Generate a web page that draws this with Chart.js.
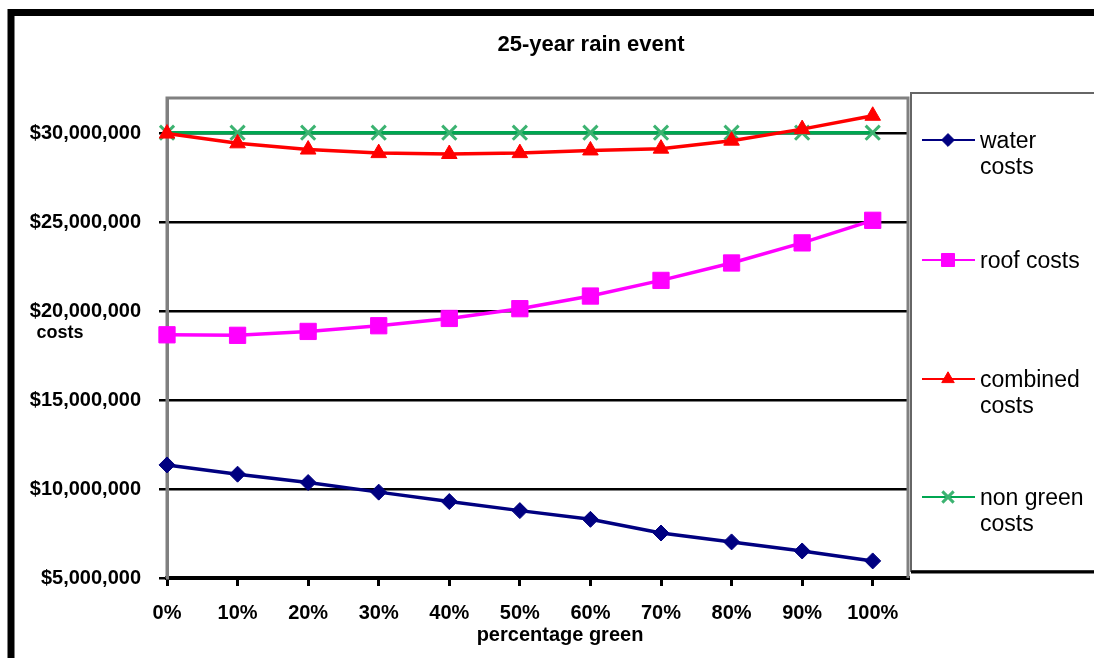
<!DOCTYPE html>
<html>
<head>
<meta charset="utf-8">
<title>25-year rain event</title>
<script src="https://cdn.jsdelivr.net/npm/chart.js@4.4.1/dist/chart.umd.min.js"></script>
<style>
  html, body { margin: 0; padding: 0; background: #fff; }
  canvas { display: block; }
</style>
</head>
<body>
<canvas id="rainChart" width="1094" height="658"></canvas>
<script>
// percentage green (x values) and their tick labels
var categories = [0, 10, 20, 30, 40, 50, 60, 70, 80, 90, 100];
var xTickLabels = ['0%', '10%', '20%', '30%', '40%', '50%', '60%', '70%', '80%', '90%', '100%'];
var yTicks = [5000000, 10000000, 15000000, 20000000, 25000000, 30000000];

// series
var waterCosts    = [11360000, 10840000, 10370000, 9830000, 9300000, 8790000, 8300000, 7530000, 7030000, 6520000, 5960000];
var roofCosts     = [18680000, 18650000, 18870000, 19190000, 19600000, 20150000, 20860000, 21740000, 22720000, 23850000, 25120000];
var combinedCosts = [30000000, 29450000, 29100000, 28900000, 28850000, 28900000, 29050000, 29150000, 29600000, 30250000, 31000000];
var nonGreenCosts = [30050000, 30050000, 30050000, 30050000, 30050000, 30050000, 30050000, 30050000, 30050000, 30050000, 30050000];

(function(){
  var FONT = '"Liberation Sans", Arial, sans-serif';

  // legend text is wrapped like the original box
  var legendLines = {
    'water costs': ['water', 'costs'],
    'roof costs': ['roof costs'],
    'combined costs': ['combined', 'costs'],
    'non green costs': ['non green', 'costs']
  };

  var framePlugin = {
    id: 'frame',
    beforeDraw: function(chart){
      var ctx = chart.ctx;
      ctx.save();
      ctx.fillStyle = '#fff';
      ctx.fillRect(0, 0, chart.width, chart.height);
      // outer black frame (runs off right / bottom)
      ctx.strokeStyle = '#000';
      ctx.lineWidth = 7;
      ctx.strokeRect(11, 12.5, chart.width + 20, chart.height + 20);
      ctx.restore();
    },
    beforeDatasetsDraw: function(chart){
      var a = chart.chartArea;
      var ctx = chart.ctx;
      ctx.save();
      ctx.strokeStyle = '#808080';
      ctx.lineWidth = 3;
      ctx.beginPath();
      ctx.moveTo(a.left, a.bottom);
      ctx.lineTo(a.left, a.top);
      ctx.lineTo(a.right, a.top);
      ctx.lineTo(a.right, a.bottom);
      ctx.stroke();
      ctx.restore();
    }
  };

  var textPlugin = {
    id: 'texts',
    afterDraw: function(chart){
      var ctx = chart.ctx;
      ctx.save();
      ctx.fillStyle = '#000';
      ctx.textAlign = 'center';
      ctx.textBaseline = 'middle';
      ctx.font = 'bold 22px ' + FONT;
      ctx.fillText('25-year rain event', 591, 45);
      ctx.font = 'bold 18px ' + FONT;
      ctx.fillText('costs', 60, 333);
      ctx.font = 'bold 20px ' + FONT;
      ctx.fillText('percentage green', 560, 635);

      // legend box
      ctx.strokeStyle = '#666';
      ctx.lineWidth = 2;
      ctx.strokeRect(911, 93, 200, 478);
      ctx.strokeStyle = '#000';
      ctx.lineWidth = 3;
      ctx.beginPath();
      ctx.moveTo(911, 572);
      ctx.lineTo(chart.width, 572);
      ctx.stroke();

      var rowsY = [140, 260, 379, 497];
      ctx.textAlign = 'left';
      ctx.font = '23px ' + FONT;
      chart.data.datasets.forEach(function(ds, i){
        var y = rowsY[i];
        ctx.strokeStyle = ds.borderColor;
        ctx.lineWidth = 2;
        ctx.beginPath();
        ctx.moveTo(922, y);
        ctx.lineTo(975, y);
        ctx.stroke();
        ctx.fillStyle = ds.pointBackgroundColor;
        ctx.strokeStyle = ds.pointBorderColor;
        ctx.lineWidth = ds.pointBorderWidth;
        Chart.helpers.drawPoint(ctx, {
          pointStyle: ds.pointStyle,
          radius: ds.pointRadius * 0.8,
          rotation: 0,
          borderWidth: ds.pointBorderWidth
        }, 948, y);
        ctx.fillStyle = '#000';
        (legendLines[ds.label] || [ds.label]).forEach(function(t, k){
          ctx.fillText(t, 980, y + 2 + k * 26);
        });
      });
      ctx.restore();
    }
  };

  function init(){
    var el = document.getElementById('rainChart');
    if(!el || typeof Chart === 'undefined') return;

    new Chart(el.getContext('2d'), {
      type: 'line',
      data: {
        labels: categories,
        datasets: [
          {
            label: 'water costs',
            data: waterCosts,
            clip: false,
            borderColor: '#000080',
            borderWidth: 3.5,
            pointStyle: 'rectRot',
            pointRadius: 8,
            pointBackgroundColor: '#000080',
            pointBorderColor: '#000080',
            pointBorderWidth: 1
          },
          {
            label: 'roof costs',
            data: roofCosts,
            clip: false,
            borderColor: '#ff00ff',
            borderWidth: 3.5,
            pointStyle: 'rect',
            pointRadius: 11.5,
            pointBackgroundColor: '#ff00ff',
            pointBorderColor: '#ff00ff',
            pointBorderWidth: 1
          },
          {
            label: 'combined costs',
            data: combinedCosts,
            clip: false,
            borderColor: '#ff0000',
            borderWidth: 3.5,
            pointStyle: 'triangle',
            pointRadius: 9,
            pointBackgroundColor: '#ff0000',
            pointBorderColor: '#ff0000',
            pointBorderWidth: 1
          },
          {
            label: 'non green costs',
            data: nonGreenCosts,
            clip: false,
            borderColor: '#00a651',
            borderWidth: 3.5,
            pointStyle: 'crossRot',
            pointRadius: 10,
            pointBackgroundColor: '#3cb371',
            pointBorderColor: '#3cb371',
            pointBorderWidth: 3
          }
        ]
      },
      options: {
        responsive: false,
        animation: false,
        layout: { padding: { left: 0, top: 98, right: 186, bottom: 0 } },
        elements: { line: { tension: 0 } },
        scales: {
          x: {
            type: 'linear',
            min: 0,
            max: 105,
            afterBuildTicks: function(scale){
              scale.ticks = categories.map(function(v){ return { value: v }; });
            },
            afterFit: function(scale){ scale.height = 80; },
            grid: { drawOnChartArea: false, drawTicks: true, tickLength: 8, color: '#000', lineWidth: 3 },
            border: { display: true, color: '#000', width: 4 },
            ticks: {
              color: '#000',
              padding: 15,
              maxRotation: 0,
              autoSkip: false,
              font: { family: FONT, size: 20, weight: 'bold' },
              callback: function(value){
                var i = categories.indexOf(value);
                return i >= 0 ? xTickLabels[i] : '';
              }
            }
          },
          y: {
            min: 5000000,
            max: 32000000,
            afterBuildTicks: function(scale){
              scale.ticks = yTicks.map(function(v){ return { value: v }; });
            },
            afterFit: function(scale){ scale.width = 167; },
            grid: { color: '#000', lineWidth: 2.5, drawTicks: true, tickLength: 8 },
            border: { display: true, color: '#808080', width: 3 },
            ticks: {
              color: '#000',
              padding: 18,
              font: { family: FONT, size: 20, weight: 'bold' },
              callback: function(value){
                return '$' + Number(value).toLocaleString('en-US');
              }
            }
          }
        },
        plugins: {
          legend: { display: false },
          title: { display: false },
          tooltip: { enabled: false }
        }
      },
      plugins: [framePlugin, textPlugin]
    });
  }

  if(document.readyState === 'loading'){
    document.addEventListener('DOMContentLoaded', init);
  } else { init(); }
})();
</script>
</body>
</html>
